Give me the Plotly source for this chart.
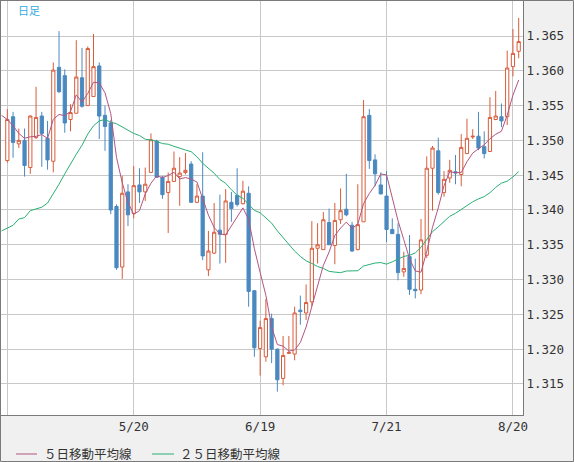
import numpy as np
import plotly.graph_objects as go

# ---- data (daily candles, oldest first) ----
opens = [1.3471, 1.3534, 1.3495, 1.3500, 1.3461, 1.3504, 1.3535, 1.3503, 1.3470, 1.3605,
         1.3593, 1.3530, 1.3539, 1.3590, 1.3550, 1.3563, 1.3607, 1.3536, 1.3525, 1.3405,
         1.3318, 1.3426, 1.3395, 1.3436, 1.3426, 1.3454, 1.3499, 1.3447, 1.3425, 1.3441,
         1.3448, 1.3454, 1.3466, 1.3411, 1.3420, 1.3314, 1.3338, 1.3371, 1.3365, 1.3411,
         1.3421, 1.3409, 1.3424, 1.3284, 1.3201, 1.3189, 1.3244, 1.3200, 1.3158, 1.3194,
         1.3193, 1.3256, 1.3252, 1.3268, 1.3345, 1.3343, 1.3382, 1.3349, 1.3386, 1.3401,
         1.3378, 1.3343, 1.3383, 1.3536, 1.3472, 1.3436, 1.3420, 1.3372, 1.3365, 1.3311,
         1.3333, 1.3286, 1.3285, 1.3335, 1.3460, 1.3485, 1.3425, 1.3446, 1.3455, 1.3451,
         1.3481, 1.3505, 1.3506, 1.3491, 1.3484, 1.3530, 1.3534, 1.3534, 1.3606, 1.3628]
highs = [1.3545, 1.3541, 1.3517, 1.3517, 1.3536, 1.3577, 1.3541, 1.3528, 1.3612, 1.3657,
         1.3602, 1.3552, 1.3644, 1.3633, 1.3635, 1.3653, 1.3612, 1.3550, 1.3529, 1.3408,
         1.3449, 1.3437, 1.3463, 1.3460, 1.3461, 1.3510, 1.3501, 1.3449, 1.3454, 1.3484,
         1.3476, 1.3482, 1.3470, 1.3437, 1.3483, 1.3370, 1.3410, 1.3422, 1.3430, 1.3426,
         1.3460, 1.3442, 1.3434, 1.3285, 1.3241, 1.3272, 1.3251, 1.3201, 1.3219, 1.3219,
         1.3261, 1.3277, 1.3293, 1.3384, 1.3381, 1.3397, 1.3402, 1.3410, 1.3431, 1.3452,
         1.3383, 1.3437, 1.3558, 1.3545, 1.3480, 1.3454, 1.3456, 1.3388, 1.3381, 1.3340,
         1.3364, 1.3330, 1.3387, 1.3477, 1.3492, 1.3504, 1.3456, 1.3472, 1.3479, 1.3509,
         1.3531, 1.3516, 1.3541, 1.3513, 1.3562, 1.3571, 1.3553, 1.3629, 1.3660, 1.3676]
lows = [1.3468, 1.3475, 1.3489, 1.3448, 1.3452, 1.3502, 1.3462, 1.3458, 1.3454, 1.3568,
        1.3511, 1.3513, 1.3539, 1.3547, 1.3550, 1.3563, 1.3502, 1.3485, 1.3394, 1.3314,
        1.3301, 1.3377, 1.3388, 1.3410, 1.3413, 1.3453, 1.3446, 1.3416, 1.3367, 1.3441,
        1.3406, 1.3451, 1.3411, 1.3410, 1.3328, 1.3305, 1.3337, 1.3323, 1.3324, 1.3383,
        1.3405, 1.3408, 1.3261, 1.3189, 1.3162, 1.3182, 1.3180, 1.3139, 1.3148, 1.3193,
        1.3184, 1.3235, 1.3242, 1.3262, 1.3323, 1.3343, 1.3350, 1.3322, 1.3380, 1.3391,
        1.3340, 1.3342, 1.3383, 1.3459, 1.3434, 1.3423, 1.3354, 1.3366, 1.3299, 1.3304,
        1.3278, 1.3273, 1.3279, 1.3331, 1.3399, 1.3422, 1.3419, 1.3439, 1.3437, 1.3434,
        1.3481, 1.3502, 1.3486, 1.3474, 1.3484, 1.3529, 1.3519, 1.3522, 1.3592, 1.3618]
closes = [1.3530, 1.3497, 1.3500, 1.3464, 1.3535, 1.3533, 1.3510, 1.3472, 1.3601, 1.3570,
          1.3525, 1.3540, 1.3591, 1.3549, 1.3632, 1.3606, 1.3535, 1.3520, 1.3400, 1.3317,
          1.3424, 1.3393, 1.3435, 1.3426, 1.3437, 1.3501, 1.3447, 1.3422, 1.3441, 1.3460,
          1.3453, 1.3457, 1.3411, 1.3420, 1.3334, 1.3341, 1.3368, 1.3365, 1.3413, 1.3402,
          1.3408, 1.3427, 1.3283, 1.3202, 1.3231, 1.3244, 1.3200, 1.3156, 1.3191, 1.3195,
          1.3252, 1.3254, 1.3267, 1.3345, 1.3350, 1.3386, 1.3350, 1.3385, 1.3399, 1.3393,
          1.3341, 1.3379, 1.3534, 1.3471, 1.3452, 1.3423, 1.3372, 1.3366, 1.3310, 1.3316,
          1.3286, 1.3284, 1.3357, 1.3460, 1.3489, 1.3425, 1.3444, 1.3457, 1.3453, 1.3490,
          1.3503, 1.3506, 1.3489, 1.3481, 1.3533, 1.3535, 1.3528, 1.3604, 1.3625, 1.3642]

# moving-average values at the left edge (need history not shown)
ma5_head = [1.3536, 1.3530, 1.3521, 1.3510, 1.3503]            # bars -1 .. 3
ma25_head = [1.3370, 1.3374, 1.3378, 1.3387, 1.3389, 1.3399, 1.3402, 1.3404,
             1.3410, 1.3423, 1.3437, 1.3452, 1.3467, 1.3480, 1.3493, 1.3509,
             1.3521, 1.3528, 1.3530, 1.3526, 1.3524, 1.3519, 1.3514, 1.3510, 1.3507]  # bars -1 .. 23

x_tick_pos = [0, 22, 44, 66, 88]
x_tick_labels = ["", "5/20", "6/19", "7/21", "8/20"]
y_ticks = [1.315, 1.320, 1.325, 1.330, 1.335, 1.340, 1.345, 1.350, 1.355, 1.360, 1.365]
legend_names = ["５日移動平均線", "２５日移動平均線"]
period_label = "日足"

# ---- derived moving averages ----
n = len(closes)
c = np.array(closes)
ma5_x = list(range(-1, 4)) + list(range(4, n))
ma5_y = ma5_head + [float(c[i - 4:i + 1].mean()) for i in range(4, n)]
ma25_x = list(range(-1, 24)) + list(range(24, n))
ma25_y = ma25_head + [float(c[i - 24:i + 1].mean()) for i in range(24, n)]

UP = "#d95c3a"
DOWN = "#4a89c0"
MA5_COL = "#b3557f"
MA25_COL = "#2aaf74"
GRID = "#c8c8c8"
BORDER = "#7a7a7a"

fig = go.Figure()
fig.add_trace(go.Candlestick(
    x=list(range(n)), open=opens, high=highs, low=lows, close=closes,
    increasing=dict(line=dict(color=UP, width=1), fillcolor="white"),
    decreasing=dict(line=dict(color=DOWN, width=1), fillcolor=DOWN),
    whiskerwidth=0, showlegend=False, hoverinfo="skip"))
fig.add_trace(go.Scatter(x=ma25_x, y=ma25_y, mode="lines",
                         line=dict(color=MA25_COL, width=1), showlegend=False, hoverinfo="skip"))
fig.add_trace(go.Scatter(x=ma5_x, y=ma5_y, mode="lines",
                         line=dict(color=MA5_COL, width=1), showlegend=False, hoverinfo="skip"))

W, H = 574, 462
ML, MR, MT, MB = 1, 51, 1, 47
PW, PH = W - ML - MR, H - MT - MB


def px(xp):
    return (xp - ML) / PW


def py(yp):
    return (H - MB - yp) / PH


fig.update_layout(
    width=W, height=H,
    margin=dict(l=ML, r=MR, t=MT, b=MB, pad=0),
    paper_bgcolor="#f0f0f0", plot_bgcolor="white",
    showlegend=False, boxgap=0.2,
    xaxis=dict(range=[-1.1, 89.75], tickvals=x_tick_pos, ticktext=x_tick_labels,
               showgrid=True, gridcolor=GRID, gridwidth=1, zeroline=False,
               showline=True, mirror=True, linecolor=BORDER, linewidth=1,
               ticks="", tickfont=dict(family="DejaVu Sans Mono", size=12.5, color="#333333"),
               rangeslider=dict(visible=False), fixedrange=True),
    yaxis=dict(range=[1.31054, 1.37003], side="right", tickvals=y_ticks,
               ticktext=[f"{v:.3f}" for v in y_ticks],
               showgrid=True, gridcolor=GRID, gridwidth=1, zeroline=False,
               showline=True, mirror=True, linecolor=BORDER, linewidth=1,
               ticks="", tickfont=dict(family="DejaVu Sans Mono", size=12.5, color="#333333"),
               fixedrange=True),
)

shapes = [
    dict(type="rect", xref="paper", yref="paper", x0=px(0.5), x1=px(W - 0.5),
         y0=py(H - 0.5), y1=py(0.5), line=dict(color=BORDER, width=1), fillcolor="rgba(0,0,0,0)"),
    dict(type="line", xref="paper", yref="paper", x0=px(16), x1=px(37), y0=py(454), y1=py(454),
         line=dict(color=MA5_COL, width=1)),
    dict(type="line", xref="paper", yref="paper", x0=px(152), x1=px(174), y0=py(454), y1=py(454),
         line=dict(color=MA25_COL, width=1)),
]
fig.update_layout(shapes=shapes)

fig.add_annotation(x=px(43), y=py(453.5), xref="paper", yref="paper", text=legend_names[0],
                   showarrow=False, xanchor="left", yanchor="middle", borderpad=0,
                   font=dict(family="Noto Sans CJK JP", size=12.5, color="#333333"))
fig.add_annotation(x=px(179), y=py(453.5), xref="paper", yref="paper", text=legend_names[1],
                   showarrow=False, xanchor="left", yanchor="middle", borderpad=0,
                   font=dict(family="Noto Sans CJK JP", size=12.5, color="#333333"))
fig.add_annotation(x=px(16), y=py(10.5), xref="paper", yref="paper", text=period_label,
                   showarrow=False, xanchor="left", yanchor="middle",
                   font=dict(family="Noto Sans CJK JP", size=11, color="#33aadd"))

fig.write_html("out.html", config={"displayModeBar": False},
               post_script=["document.body.style.margin='0px';"])
